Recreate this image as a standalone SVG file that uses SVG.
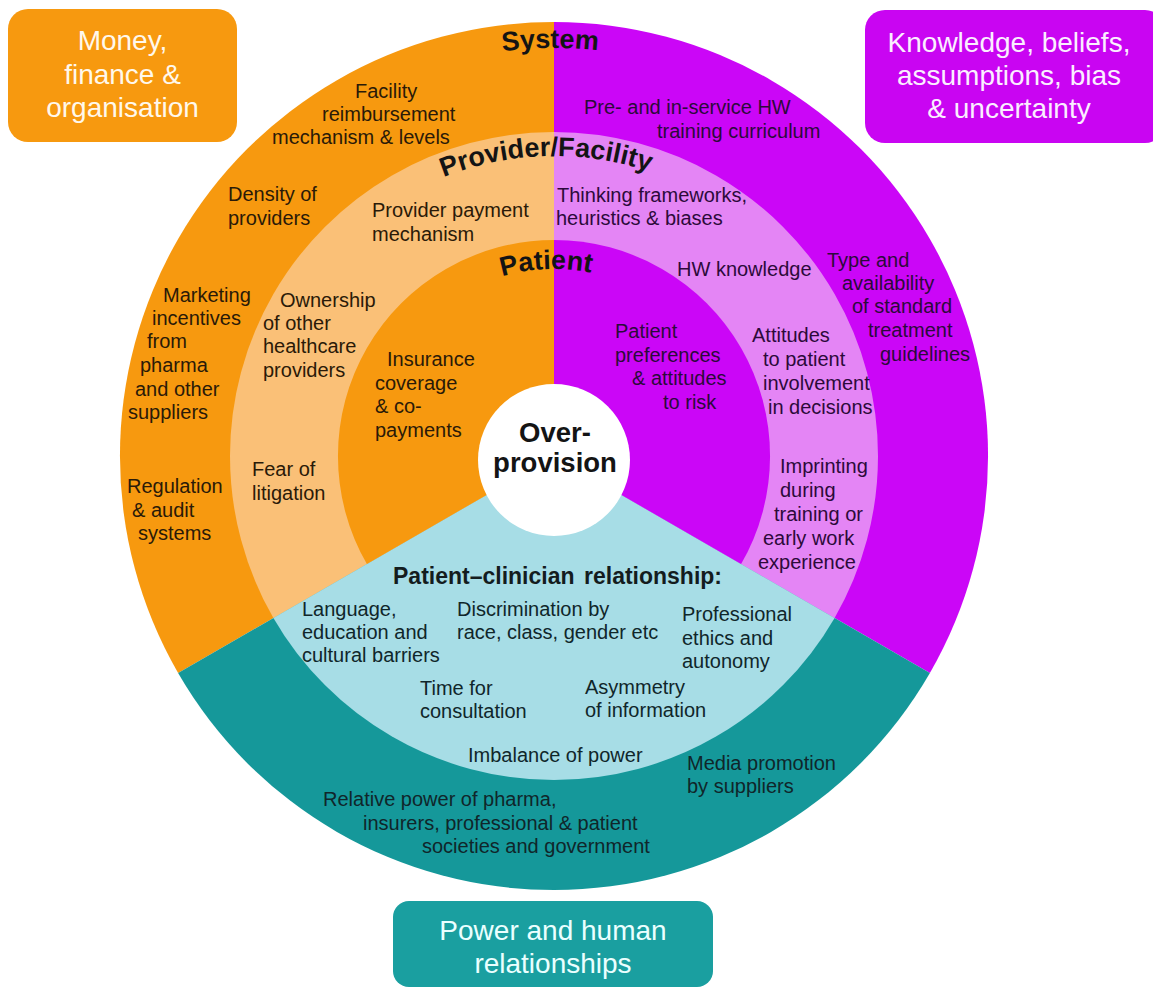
<svg xmlns="http://www.w3.org/2000/svg" width="1153" height="990" viewBox="0 0 1153 990">
<style>
text{font-family:"Liberation Sans",Arial,sans-serif}
.t{font-size:20px}
.o{fill:#2a1a08}
.p{fill:#2c0a3a}
.b{fill:#10262a}
.ring{font-size:27px;font-weight:bold;fill:#141414}
.box{font-size:28px;text-anchor:middle}
.hd{font-size:23px;font-weight:bold;fill:#141c1e}
.ctr{font-size:27.5px;font-weight:bold;fill:#141414;text-anchor:middle}
</style>
<defs>
<!-- baseline arcs for the curved ring titles, centred on the wheel hub -->
<path id="arcSys" d="M146,456 A408,408 0 0 1 962,456"/>
<path id="arcProv" d="M254,456 A300,300 0 0 1 854,456"/>
<path id="arcPat" d="M367,456 A187,187 0 0 1 741,456"/>
</defs>
<rect width="1153" height="990" fill="#fff"/>

<!-- wheel: three 120-degree sectors, three rings -->
<g id="wheel">
 <path id="sys-money" fill="#F7990F" d="M554,456 L554,22 A434,434 0 0 0 178.1,673 Z"/>
 <path id="sys-knowledge" fill="#CB06F7" d="M554,456 L554,22 A434,434 0 0 1 929.9,673 Z"/>
 <path id="sys-power" fill="#15989A" d="M554,456 L178.1,673 A434,434 0 0 0 929.9,673 Z"/>
 <path id="prov-money" fill="#FAC077" d="M554,456 L554,132 A324,324 0 0 0 273.4,618 Z"/>
 <path id="prov-knowledge" fill="#E485F5" d="M554,456 L554,132 A324,324 0 0 1 834.6,618 Z"/>
 <path id="relationship" fill="#A7DDE6" d="M554,456 L273.4,618 A324,324 0 0 0 834.6,618 Z"/>
 <path id="pat-money" fill="#F7990F" d="M554,456 L554,240 A216,216 0 0 0 366.9,564 Z"/>
 <path id="pat-knowledge" fill="#CB06F7" d="M554,456 L554,240 A216,216 0 0 1 741.1,564 Z"/>
</g>

<g id="hub">
 <circle cx="554" cy="460" r="76" fill="#fff"/>
 <text class="ctr" x="555" y="442">Over-</text>
 <text class="ctr" x="555" y="472">provision</text>
</g>

<g id="ring-titles">
 <text class="ring"><textPath href="#arcSys" startOffset="637" text-anchor="middle">System</textPath></text>
 <text class="ring"><textPath href="#arcProv" startOffset="463" text-anchor="middle">Provider/Facility</textPath></text>
 <text class="ring"><textPath href="#arcPat" startOffset="286" text-anchor="middle">Patient</textPath></text>
</g>

<!-- money, finance & organisation -->
<g id="money-items" class="t o">
 <text x="355" y="98">Facility</text>
 <text x="322" y="121">reimbursement</text>
 <text x="272" y="144">mechanism &amp; levels</text>
 <text x="228" y="201">Density of</text>
 <text x="228" y="225">providers</text>
 <text x="163" y="302">Marketing</text>
 <text x="152" y="325">incentives</text>
 <text x="147" y="348">from</text>
 <text x="140" y="372">pharma</text>
 <text x="135" y="396">and other</text>
 <text x="128" y="419">suppliers</text>
 <text x="127" y="493">Regulation</text>
 <text x="132" y="517">&amp; audit</text>
 <text x="138" y="540">systems</text>
 <text x="372" y="217">Provider payment</text>
 <text x="372" y="241">mechanism</text>
 <text x="280" y="307">Ownership</text>
 <text x="263" y="330">of other</text>
 <text x="263" y="353">healthcare</text>
 <text x="263" y="377">providers</text>
 <text x="252" y="476">Fear of</text>
 <text x="252" y="500">litigation</text>
 <text x="387" y="366">Insurance</text>
 <text x="375" y="390">coverage</text>
 <text x="375" y="413">&amp; co-</text>
 <text x="375" y="437">payments</text>
</g>

<!-- knowledge, beliefs, assumptions -->
<g id="knowledge-items" class="t p">
 <text x="584" y="114">Pre- and in-service HW</text>
 <text x="657" y="138">training curriculum</text>
 <text x="827" y="267">Type and</text>
 <text x="842" y="290">availability</text>
 <text x="852" y="313">of standard</text>
 <text x="868" y="337">treatment</text>
 <text x="880" y="361">guidelines</text>
 <text x="557" y="202">Thinking frameworks,</text>
 <text x="556" y="225">heuristics &amp; biases</text>
 <text x="677" y="276">HW knowledge</text>
 <text x="752" y="342">Attitudes</text>
 <text x="763" y="366">to patient</text>
 <text x="763" y="390">involvement</text>
 <text x="768" y="414">in decisions</text>
 <text x="780" y="473">Imprinting</text>
 <text x="780" y="497">during</text>
 <text x="774" y="521">training or</text>
 <text x="763" y="545">early work</text>
 <text x="758" y="569">experience</text>
 <text x="615" y="338">Patient</text>
 <text x="615" y="362">preferences</text>
 <text x="632" y="385">&amp; attitudes</text>
 <text x="663" y="409">to risk</text>
</g>

<!-- power and human relationships -->
<g id="power-items" class="t b">
 <text class="hd" x="393" y="584">Patient–clinician<tspan x="584">relationship:</tspan></text>
 <text x="302" y="616">Language,</text>
 <text x="302" y="639">education and</text>
 <text x="302" y="662">cultural barriers</text>
 <text x="457" y="616">Discrimination by</text>
 <text x="457" y="639">race, class, gender etc</text>
 <text x="682" y="621">Professional</text>
 <text x="682" y="645">ethics and</text>
 <text x="682" y="668">autonomy</text>
 <text x="420" y="695">Time for</text>
 <text x="420" y="718">consultation</text>
 <text x="585" y="694">Asymmetry</text>
 <text x="585" y="717">of information</text>
 <text x="468" y="762">Imbalance of power</text>
 <text x="687" y="770">Media promotion</text>
 <text x="687" y="793">by suppliers</text>
 <text x="323" y="806">Relative power of pharma,</text>
 <text x="363" y="830">insurers, professional &amp; patient</text>
 <text x="422" y="853">societies and government</text>
</g>

<!-- legend boxes -->
<g id="box-money">
 <rect x="8" y="9" width="229" height="133" rx="20" fill="#F7990F"/>
 <text class="box" x="122.5" y="50" fill="#fff8ec">Money,</text>
 <text class="box" x="122.5" y="84" fill="#fff8ec">finance &amp;</text>
 <text class="box" x="122.5" y="117" fill="#fff8ec">organisation</text>
</g>
<g id="box-knowledge">
 <rect x="865" y="10" width="300" height="133" rx="20" fill="#C905F2"/>
 <text class="box" x="1009" y="52" fill="#fbeeff">Knowledge, beliefs,</text>
 <text class="box" x="1009" y="85" fill="#fbeeff">assumptions, bias</text>
 <text class="box" x="1009" y="118" fill="#fbeeff">&amp; uncertainty</text>
</g>
<g id="box-power">
 <rect x="393" y="901" width="320" height="86" rx="16" fill="#1A9FA0"/>
 <text class="box" x="553" y="940" fill="#eaffff">Power and human</text>
 <text class="box" x="553" y="973" fill="#eaffff">relationships</text>
</g>
</svg>
